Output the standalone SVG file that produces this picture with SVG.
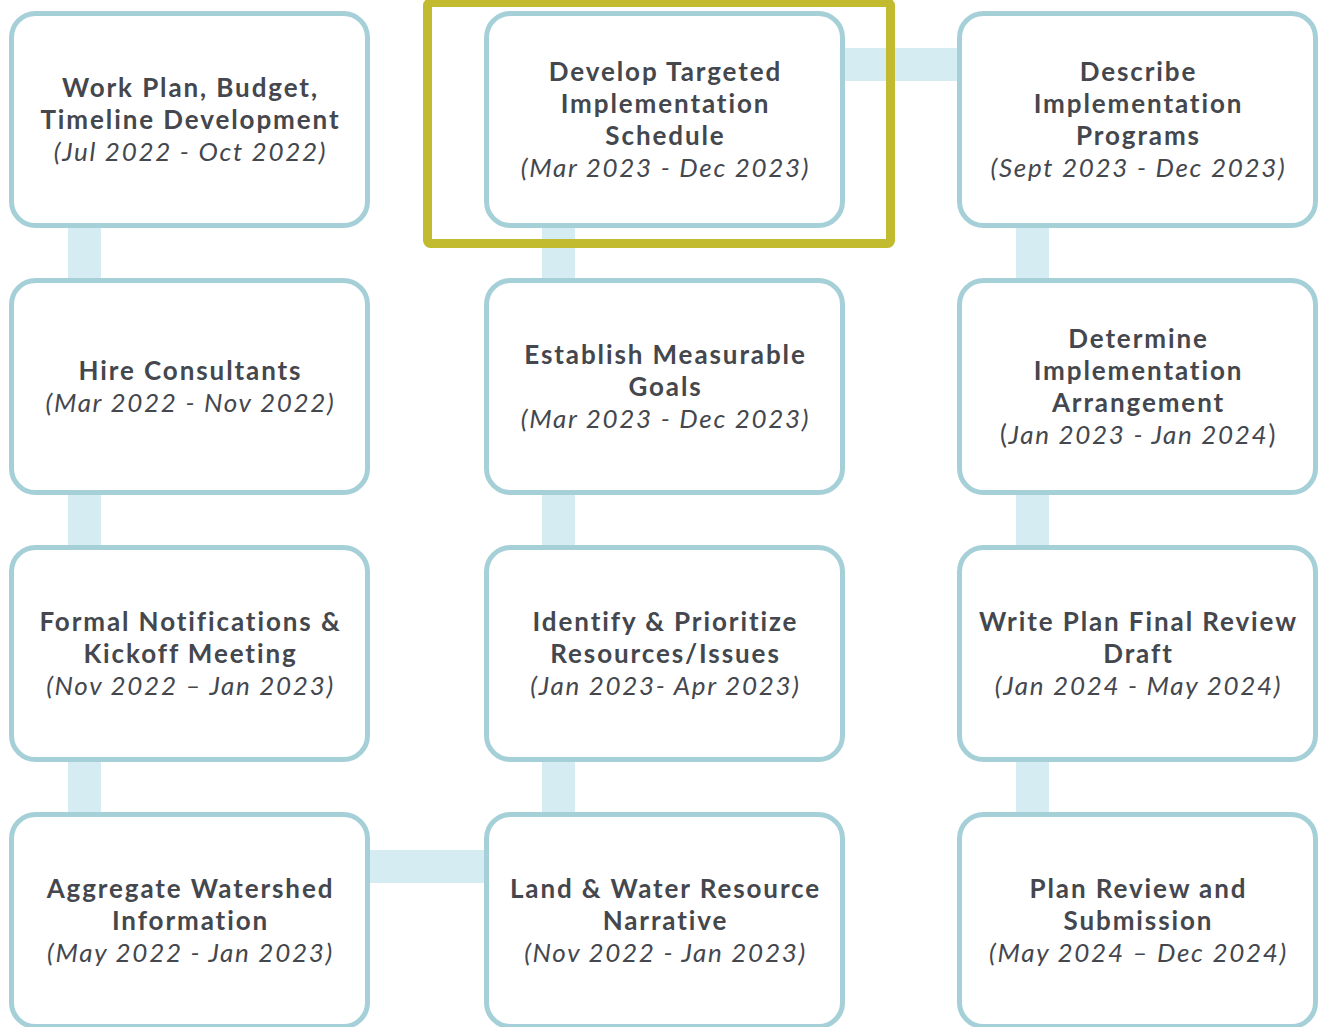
<svg xmlns="http://www.w3.org/2000/svg" width="1319" height="1027" viewBox="0 0 1319 1027">
<style>
.box{fill:#ffffff;stroke:#a6d0d8;stroke-width:5}
.conn{fill:#d5ecf2}
.t{font-family:Lato,"Open Sans","Liberation Sans",sans-serif;font-size:26px;font-weight:700;fill:#44474d;text-anchor:middle;letter-spacing:1.9px}
.d{font-family:Lato,"Open Sans","Liberation Sans",sans-serif;font-size:26px;font-style:italic;font-weight:400;fill:#44474d;text-anchor:middle;letter-spacing:1.7px}
.n{font-style:normal}
.hl{fill:none;stroke:#c2bb2f;stroke-width:9}
</style>
<rect width="1319" height="1027" fill="#ffffff"/>
<g id="connectors">
<rect class="conn" x="68" y="224" width="33" height="60"/>
<rect class="conn" x="68" y="491" width="33" height="60"/>
<rect class="conn" x="68" y="758" width="33" height="60"/>
<rect class="conn" x="542" y="224" width="33" height="60"/>
<rect class="conn" x="542" y="491" width="33" height="60"/>
<rect class="conn" x="542" y="758" width="33" height="60"/>
<rect class="conn" x="1016" y="224" width="33" height="60"/>
<rect class="conn" x="1016" y="491" width="33" height="60"/>
<rect class="conn" x="1016" y="758" width="33" height="60"/>
<rect class="conn" x="840" y="48" width="122" height="33"/>
<rect class="conn" x="365" y="850" width="124" height="33"/>
</g>
<g id="n1">
<rect class="box" x="11.5" y="13.5" width="356" height="212" rx="24"/>
<text class="t" x="190.5" y="96.5">Work Plan, Budget,</text>
<text class="t" x="190.5" y="128.5">Timeline Development</text>
<text class="d" x="190.5" y="160.5">(Jul 2022 - Oct 2022)</text>
</g>
<g id="n2">
<rect class="box" x="11.5" y="280.5" width="356" height="212" rx="24"/>
<text class="t" x="190.5" y="379.5">Hire Consultants</text>
<text class="d" x="190.5" y="411.5">(Mar 2022 - Nov 2022)</text>
</g>
<g id="n3">
<rect class="box" x="11.5" y="547.5" width="356" height="212" rx="24"/>
<text class="t" x="190.5" y="630.5">Formal Notifications &amp;</text>
<text class="t" x="190.5" y="662.5">Kickoff Meeting</text>
<text class="d" x="190.5" y="694.5">(Nov 2022 – Jan 2023)</text>
</g>
<g id="n4">
<rect class="box" x="11.5" y="814.5" width="356" height="212" rx="24"/>
<text class="t" x="190.5" y="897.5">Aggregate Watershed</text>
<text class="t" x="190.5" y="929.5">Information</text>
<text class="d" x="190.5" y="961.5">(May 2022 - Jan 2023)</text>
</g>
<g id="n5">
<rect class="box" x="486.5" y="13.5" width="356" height="212" rx="24"/>
<text class="t" x="665.5" y="80.5">Develop Targeted</text>
<text class="t" x="665.5" y="112.5">Implementation</text>
<text class="t" x="665.5" y="144.5">Schedule</text>
<text class="d" x="665.5" y="176.5">(Mar 2023 - Dec 2023)</text>
</g>
<g id="n6">
<rect class="box" x="486.5" y="280.5" width="356" height="212" rx="24"/>
<text class="t" x="665.5" y="363.5">Establish Measurable</text>
<text class="t" x="665.5" y="395.5">Goals</text>
<text class="d" x="665.5" y="427.5">(Mar 2023 - Dec 2023)</text>
</g>
<g id="n7">
<rect class="box" x="486.5" y="547.5" width="356" height="212" rx="24"/>
<text class="t" x="665.5" y="630.5">Identify &amp; Prioritize</text>
<text class="t" x="665.5" y="662.5">Resources/Issues</text>
<text class="d" x="665.5" y="694.5">(Jan 2023- Apr 2023)</text>
</g>
<g id="n8">
<rect class="box" x="486.5" y="814.5" width="356" height="212" rx="24"/>
<text class="t" x="665.5" y="897.5">Land &amp; Water Resource</text>
<text class="t" x="665.5" y="929.5">Narrative</text>
<text class="d" x="665.5" y="961.5">(Nov 2022 - Jan 2023)</text>
</g>
<g id="n9">
<rect class="box" x="959.5" y="13.5" width="356" height="212" rx="24"/>
<text class="t" x="1138.5" y="80.5">Describe</text>
<text class="t" x="1138.5" y="112.5">Implementation</text>
<text class="t" x="1138.5" y="144.5">Programs</text>
<text class="d" x="1138.5" y="176.5">(Sept 2023 - Dec 2023)</text>
</g>
<g id="n10">
<rect class="box" x="959.5" y="280.5" width="356" height="212" rx="24"/>
<text class="t" x="1138.5" y="347.5">Determine</text>
<text class="t" x="1138.5" y="379.5">Implementation</text>
<text class="t" x="1138.5" y="411.5">Arrangement</text>
<text class="d" x="1138.5" y="443.5"><tspan class="n">(</tspan>Jan 2023 - Jan 2024<tspan class="n">)</tspan></text>
</g>
<g id="n11">
<rect class="box" x="959.5" y="547.5" width="356" height="212" rx="24"/>
<text class="t" x="1138.5" y="630.5">Write Plan Final Review</text>
<text class="t" x="1138.5" y="662.5">Draft</text>
<text class="d" x="1138.5" y="694.5">(Jan 2024 - May 2024)</text>
</g>
<g id="n12">
<rect class="box" x="959.5" y="814.5" width="356" height="212" rx="24"/>
<text class="t" x="1138.5" y="897.5">Plan Review and</text>
<text class="t" x="1138.5" y="929.5">Submission</text>
<text class="d" x="1138.5" y="961.5">(May 2024 – Dec 2024)</text>
</g>
<g id="highlight">
<rect class="hl" x="427.5" y="2.5" width="463" height="241" rx="3"/>
</g>
</svg>
